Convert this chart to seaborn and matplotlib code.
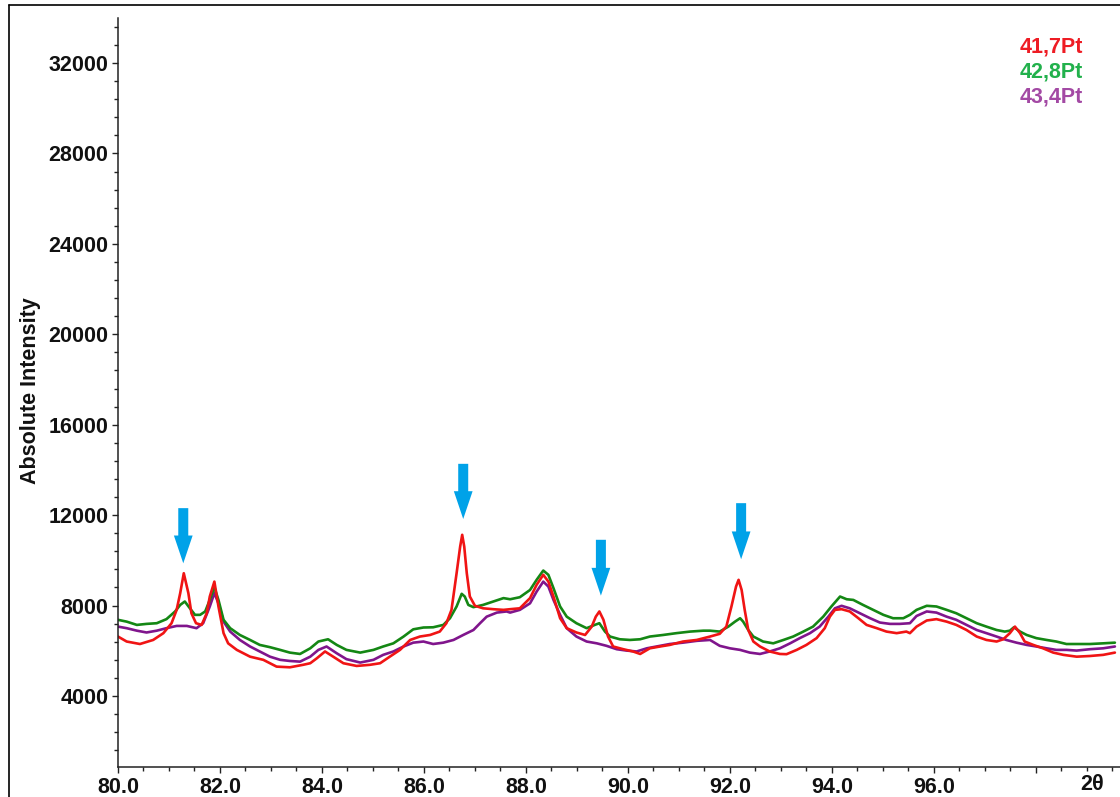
import numpy as np
import pandas as pd
import matplotlib
matplotlib.use("Agg")
import matplotlib.pyplot as plt
from matplotlib.patches import FancyArrowPatch
from matplotlib.lines import Line2D
from matplotlib.ticker import MultipleLocator, FixedLocator, FixedFormatter
import seaborn as sns

# ---- diffraction scans (2theta in degrees, absolute intensity in counts) ----
x_417 = [80.0, 80.17, 80.43, 80.69, 80.89, 81.05, 81.15, 81.22, 81.29, 81.38, 81.44, 81.53,
         81.64, 81.74, 81.80, 81.89, 81.97, 82.07, 82.16, 82.33, 82.59, 82.85, 83.11, 83.37,
         83.63, 83.77, 83.90, 84.06, 84.22, 84.42, 84.68, 84.94, 85.14, 85.33, 85.53, 85.73,
         85.92, 86.12, 86.31, 86.44, 86.54, 86.64, 86.71, 86.75, 86.79, 86.84, 86.90, 87.00,
         87.16, 87.36, 87.56, 87.69, 87.88, 88.08, 88.21, 88.34, 88.44, 88.54, 88.67, 88.80,
         88.99, 89.16, 89.29, 89.37, 89.44, 89.52, 89.61, 89.71, 89.91, 90.10, 90.24, 90.43,
         90.63, 90.82, 91.08, 91.35, 91.61, 91.80, 91.93, 92.03, 92.12, 92.17, 92.23, 92.29,
         92.36, 92.46, 92.59, 92.78, 92.98, 93.11, 93.31, 93.50, 93.70, 93.86, 93.96, 94.06,
         94.19, 94.35, 94.52, 94.68, 94.88, 95.07, 95.27, 95.46, 95.53, 95.66, 95.86, 96.05,
         96.25, 96.44, 96.64, 96.84, 97.03, 97.23, 97.36, 97.49, 97.59, 97.69, 97.78, 97.95,
         98.14, 98.34, 98.54, 98.80, 99.06, 99.32, 99.55]
y_417 = [6630, 6410, 6300, 6480, 6780, 7220, 7810, 8550, 9430, 8550, 7660, 7220,
         7145, 7660, 8400, 9060, 7960, 6780, 6330, 6040, 5740, 5600, 5300, 5270,
         5380, 5450, 5670, 5970, 5740, 5450, 5330, 5380, 5450, 5740, 6040, 6480,
         6630, 6700, 6850, 7220, 7810, 9430, 10610, 11130, 10610, 9430, 8400, 7990,
         7880, 7840, 7810, 7840, 7880, 8330, 8920, 9360, 9060, 8400, 7440, 7000,
         6810, 6700, 7070, 7510, 7740, 7370, 6630, 6190, 6070, 5970, 5860, 6110,
         6190, 6260, 6410, 6480, 6630, 6750, 7070, 7960, 8840, 9140, 8690, 7810,
         6920, 6410, 6190, 5970, 5860, 5850, 6040, 6260, 6560, 7000, 7510, 7810,
         7840, 7740, 7440, 7145, 7000, 6850, 6780, 6850, 6780, 7070, 7340, 7400,
         7290, 7145, 6920, 6630, 6480, 6410, 6510, 6780, 7070, 6780, 6410, 6260,
         6110, 5920, 5820, 5740, 5770, 5820, 5920]

x_428 = [80.0, 80.17, 80.37, 80.56, 80.76, 80.95, 81.12, 81.22, 81.31, 81.41, 81.51, 81.61,
         81.71, 81.80, 81.89, 81.97, 82.07, 82.20, 82.39, 82.59, 82.78, 82.98, 83.18, 83.37,
         83.57, 83.77, 83.93, 84.12, 84.29, 84.48, 84.75, 85.01, 85.20, 85.40, 85.60, 85.79,
         85.99, 86.18, 86.38, 86.51, 86.64, 86.74, 86.80, 86.87, 86.97, 87.16, 87.36, 87.56,
         87.69, 87.88, 88.08, 88.21, 88.34, 88.44, 88.54, 88.67, 88.80, 88.99, 89.19, 89.35,
         89.44, 89.55, 89.65, 89.84, 90.04, 90.24, 90.43, 90.69, 90.95, 91.22, 91.48, 91.61,
         91.80, 91.97, 92.10, 92.20, 92.26, 92.36, 92.46, 92.65, 92.85, 93.05, 93.24, 93.44,
         93.63, 93.83, 93.99, 94.16, 94.29, 94.42, 94.61, 94.81, 95.01, 95.20, 95.40, 95.53,
         95.66, 95.86, 96.05, 96.25, 96.44, 96.64, 96.84, 97.03, 97.23, 97.39, 97.49, 97.57,
         97.69, 97.82, 98.01, 98.21, 98.40, 98.60, 98.80, 99.06, 99.32, 99.55]
y_428 = [7370, 7290, 7145, 7190, 7220, 7400, 7740, 8030, 8180, 7880, 7590, 7590,
         7740, 8250, 8810, 8250, 7370, 7000, 6700, 6480, 6260, 6160, 6040, 5920,
         5860, 6110, 6410, 6510, 6260, 6040, 5920, 6040, 6190, 6330, 6630, 6950,
         7030, 7040, 7145, 7440, 7960, 8520, 8400, 8030, 7930, 8030, 8180, 8330,
         8280, 8370, 8690, 9140, 9550, 9360, 8770, 7960, 7510, 7220, 7000, 7145,
         7220, 6850, 6630, 6510, 6480, 6510, 6630, 6700, 6780, 6850, 6890, 6890,
         6850, 7070, 7290, 7440, 7290, 6920, 6630, 6410, 6330, 6480, 6630, 6850,
         7070, 7510, 7960, 8400, 8280, 8250, 8030, 7810, 7590, 7440, 7440, 7590,
         7810, 7990, 7960, 7810, 7660, 7440, 7220, 7070, 6920, 6850, 6890, 7040,
         6850, 6700, 6560, 6480, 6410, 6300, 6300, 6300, 6330, 6360]

x_434 = [80.0, 80.17, 80.37, 80.56, 80.76, 80.95, 81.15, 81.35, 81.54, 81.67, 81.80, 81.89,
         81.97, 82.07, 82.20, 82.39, 82.59, 82.78, 82.98, 83.18, 83.37, 83.57, 83.77, 83.93,
         84.09, 84.29, 84.48, 84.75, 85.01, 85.20, 85.40, 85.60, 85.79, 85.99, 86.18, 86.38,
         86.58, 86.77, 86.97, 87.10, 87.23, 87.43, 87.62, 87.69, 87.88, 88.08, 88.21, 88.34,
         88.44, 88.54, 88.67, 88.80, 88.99, 89.19, 89.39, 89.58, 89.78, 89.97, 90.17, 90.37,
         90.56, 90.82, 91.08, 91.35, 91.61, 91.80, 92.00, 92.20, 92.39, 92.59, 92.78, 92.98,
         93.18, 93.37, 93.57, 93.76, 93.93, 94.06, 94.19, 94.35, 94.55, 94.75, 94.94, 95.14,
         95.33, 95.53, 95.66, 95.86, 96.05, 96.25, 96.44, 96.64, 96.84, 97.03, 97.23, 97.42,
         97.62, 97.82, 98.01, 98.21, 98.40, 98.60, 98.80, 99.06, 99.32, 99.55]
y_434 = [7070, 7000, 6890, 6810, 6890, 7000, 7100, 7100, 7000, 7220, 7960, 8550,
         8100, 7290, 6850, 6480, 6190, 5970, 5740, 5600, 5550, 5520, 5740, 6040,
         6190, 5890, 5630, 5480, 5600, 5820, 5970, 6190, 6360, 6410, 6300, 6360,
         6480, 6700, 6920, 7220, 7510, 7690, 7740, 7690, 7810, 8100, 8620, 9060,
         8840, 8250, 7590, 7000, 6630, 6410, 6330, 6220, 6070, 6010, 5970, 6110,
         6190, 6300, 6360, 6440, 6480, 6220, 6110, 6040, 5920, 5860, 5970, 6110,
         6330, 6560, 6780, 7070, 7510, 7880, 7990, 7880, 7660, 7440, 7250, 7190,
         7190, 7220, 7540, 7740, 7690, 7510, 7370, 7145, 6920, 6780, 6630, 6480,
         6360, 6260, 6190, 6110, 6040, 6040, 6010, 6070, 6110, 6190]

labels = ["41,7Pt", "42,8Pt", "43,4Pt"]
line_colors = ["#f01414", "#148714", "#80158c"]
label_colors = ["#ee1c24", "#22b14c", "#a349a4"]

# marked reflections: position, arrow top, arrow tip
arrow_x = [81.28, 86.77, 89.47, 92.22]
arrow_top = [12310, 14270, 10910, 12530]
arrow_tip = [9870, 11830, 8440, 10050]

x_ticks = [80.0, 82.0, 84.0, 86.0, 88.0, 90.0, 92.0, 94.0, 96.0, 98.0]
x_tick_labels = ["80.0", "82.0", "84.0", "86.0", "88.0", "90.0", "92.0", "94.0", "96.0", ""]
y_ticks = [4000, 8000, 12000, 16000, 20000, 24000, 28000, 32000]

sns.set_theme(style="white")
plt.rcParams["font.family"] = ["Liberation Sans", "DejaVu Sans"]
plt.rcParams["font.weight"] = "bold"

FS = 15.5
W, H = 1120, 797
fig = plt.figure(figsize=(W / 100, H / 100), dpi=100)
ax = fig.add_axes([118 / W, 1 - 767 / H, (W - 118) / W, (767 - 18) / H])

frames = []
for xs, ys, lab in zip([x_417, x_428, x_434], [y_417, y_428, y_434], labels):
    frames.append(pd.DataFrame({"two_theta": xs, "intensity": ys, "sample": lab}))
df = pd.concat(frames, ignore_index=True)

# purple first, red on top
for lab, col in list(zip(labels, line_colors))[::-1]:
    sns.lineplot(data=df[df["sample"] == lab], x="two_theta", y="intensity",
                 color=col, lw=1.9, estimator=None, sort=True, ax=ax, legend=False)

ax.set_xlim(80.0, 99.65)
ax.set_ylim(860, 33990)

for xa, yt, yb in zip(arrow_x, arrow_top, arrow_tip):
    ar = FancyArrowPatch((xa, yt), (xa, yb),
                         arrowstyle="simple,head_length=2.0,head_width=1.35,tail_width=0.72",
                         mutation_scale=10, color="#00a2e8", lw=0,
                         shrinkA=0, shrinkB=0, zorder=5)
    ax.add_patch(ar)

# axes styling
for s in ["top", "right"]:
    ax.spines[s].set_visible(False)
for s in ["left", "bottom"]:
    ax.spines[s].set_color("#222222")
    ax.spines[s].set_linewidth(1.1)

ax.xaxis.set_major_locator(FixedLocator(x_ticks))
ax.xaxis.set_major_formatter(FixedFormatter(x_tick_labels))
ax.xaxis.set_minor_locator(MultipleLocator(0.5))
ax.yaxis.set_major_locator(FixedLocator(y_ticks))
ax.yaxis.set_minor_locator(MultipleLocator(800))
ax.tick_params(axis="both", which="both", direction="out", color="#222222",
               bottom=True, left=True, width=1.0)
ax.tick_params(axis="both", which="major", length=4, labelsize=FS, pad=3)
ax.tick_params(axis="both", which="minor", length=3)
for t in ax.get_xticklabels() + ax.get_yticklabels():
    t.set_fontweight("bold")
    t.set_color("#111111")

ax.set_xlabel("")
ax.set_ylabel("Absolute Intensity", fontsize=FS, fontweight="bold", color="#111111")
ax.yaxis.set_label_coords(-(118 - 41) / (W - 118), (767 - 391) / (767 - 18))

fig.text(1092 / W, 1 - 785 / H, "2θ", ha="center", va="center",
         fontsize=FS, fontweight="bold", color="#111111")

for i, (lab, col) in enumerate(zip(labels, label_colors)):
    fig.text(1083 / W, 1 - (47 + 25 * i) / H, lab, ha="right", va="center",
             fontsize=FS, fontweight="bold", color=col)

# outer frame (left and top edges)
fig.add_artist(Line2D([9 / W, 9 / W], [0, 1 - 5 / H], transform=fig.transFigure,
                      color="black", lw=1.2))
fig.add_artist(Line2D([9 / W, 1], [1 - 5 / H, 1 - 5 / H], transform=fig.transFigure,
                      color="black", lw=1.2))

fig.savefig("out.png", dpi=100, facecolor="white")
